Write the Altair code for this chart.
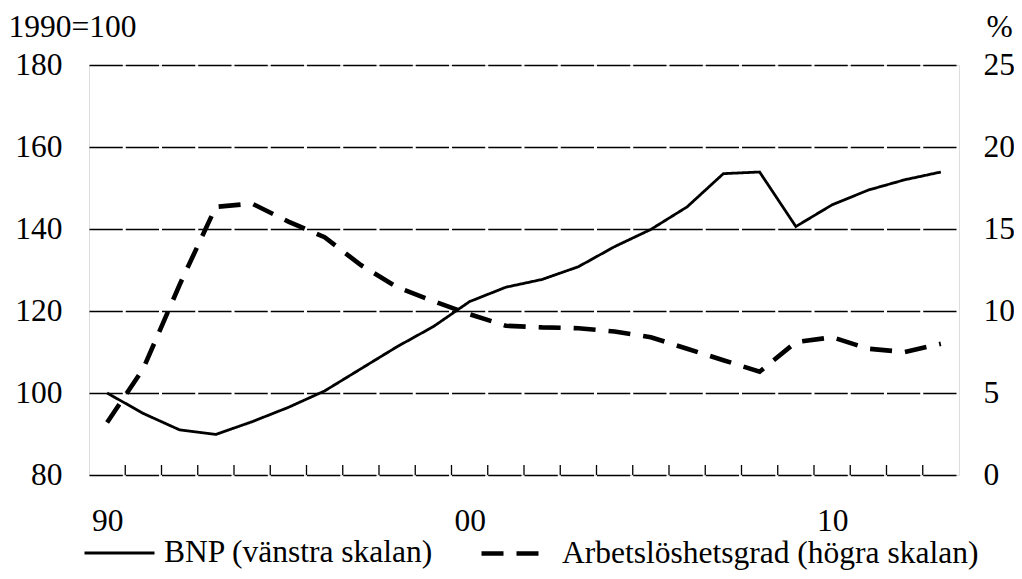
import altair as alt
import pandas as pd

years = list(range(1990, 2014))
bnp = [100.0, 95.0, 91.0, 89.9, 93.0, 96.5, 100.5, 105.9, 111.3, 116.2, 122.3, 125.8,
       127.7, 130.8, 135.7, 139.9, 145.4, 153.5, 153.9, 140.6, 145.9, 149.5, 152.0, 153.9]
unemp = [3.2, 6.5, 11.6, 16.35, 16.55, 15.45, 14.5, 12.8, 11.45, 10.6, 9.8, 9.1,
         9.0, 8.95, 8.75, 8.4, 7.7, 7.0, 6.3, 8.1, 8.4, 7.7, 7.5, 8.0]
series_names = ["BNP (vänstra skalan)", "Arbetslöshetsgrad (högra skalan)"]
left_ticks = [80, 100, 120, 140, 160, 180]
right_ticks = [0, 5, 10, 15, 20, 25]
x_labels = [1990, 2000, 2010]

FONT = "Liberation Serif"
FS = 31.5

df_bnp = pd.DataFrame({"year": years, "value": bnp, "series": series_names[0]})
df_un = pd.DataFrame({"year": years, "value": unemp, "series": series_names[1]})
df_ticks = pd.DataFrame({"year": years[:-1]})

xscale = alt.Scale(domain=[years[0] - 0.5, years[-1] + 0.5], nice=False, zero=False)
xaxis = alt.Axis(values=x_labels, format="d", labelExpr="slice(datum.label, 2)",
                 ticks=False, domain=False, grid=False, labelFont=FONT, labelFontSize=FS,
                 labelColor="black", labelPadding=30, title=None, labelFlush=False,
                 labelOverlap=False)

dash_scale = alt.Scale(domain=series_names, range=[[1, 0], [22, 13]])
width_scale = alt.Scale(domain=series_names, range=[2.8, 4.6])
legend = alt.Legend(orient="none", legendX=-6, legendY=451, direction="horizontal",
                    symbolType="stroke", symbolSize=4900, symbolStrokeColor="black",
                    labelFont=FONT, labelFontSize=FS, labelColor="black", labelOffset=8,
                    columnPadding=38, padding=0, title=None, labelLimit=0)

line_bnp = alt.Chart(df_bnp).mark_line(color="black").encode(
    x=alt.X("year:Q", scale=xscale, axis=xaxis),
    y=alt.Y("value:Q", scale=alt.Scale(domain=[80, 180], nice=False, zero=False),
            axis=alt.Axis(values=left_ticks, orient="left", ticks=False, domain=False,
                          grid=True, gridColor="black", gridDash=[33.25, 3], gridWidth=1.3,
                          labelFont=FONT, labelFontSize=FS, labelColor="black",
                          labelPadding=27, title="1990=100", titleAngle=0,
                          titleFont=FONT, titleFontSize=FS, titleFontWeight="normal",
                          titleColor="black", titleX=-81, titleY=-38,
                          titleAlign="left", titleBaseline="middle")),
    strokeDash=alt.StrokeDash("series:N", scale=dash_scale, legend=legend),
    strokeWidth=alt.StrokeWidth("series:N", scale=width_scale, legend=legend),
)

line_un = alt.Chart(df_un).mark_line(color="black").encode(
    x=alt.X("year:Q", scale=xscale, axis=xaxis),
    y=alt.Y("value:Q", scale=alt.Scale(domain=[0, 25], nice=False, zero=False),
            axis=alt.Axis(values=right_ticks, orient="right", ticks=False, domain=False,
                          grid=False, labelFont=FONT, labelFontSize=FS, labelColor="black",
                          labelPadding=24, title="%", titleAngle=0,
                          titleFont=FONT, titleFontSize=FS, titleFontWeight="normal",
                          titleColor="black", titleX=27, titleY=-38,
                          titleAlign="left", titleBaseline="middle")),
    strokeDash=alt.StrokeDash("series:N", scale=dash_scale, legend=legend),
    strokeWidth=alt.StrokeWidth("series:N", scale=width_scale, legend=legend),
)

tick_marks = alt.Chart(df_ticks).transform_calculate(
    tick="datum.year + 0.5"
).mark_rule(color="black", strokeWidth=1.3).encode(
    x=alt.X("tick:Q", scale=xscale, axis=xaxis),
    y=alt.value(400),
    y2=alt.value(410),
)

chart = alt.layer(line_bnp, line_un, tick_marks).resolve_scale(
    y="independent"
).properties(
    width=870, height=410,
    autosize=alt.AutoSizeParams(type="none"),
    padding={"left": 81, "top": 57, "right": 55, "bottom": 96},
).configure_view(
    stroke="black", strokeWidth=1.6
).configure(background="white")

chart.save("out.html", embed_options={"renderer": "svg", "actions": False})
